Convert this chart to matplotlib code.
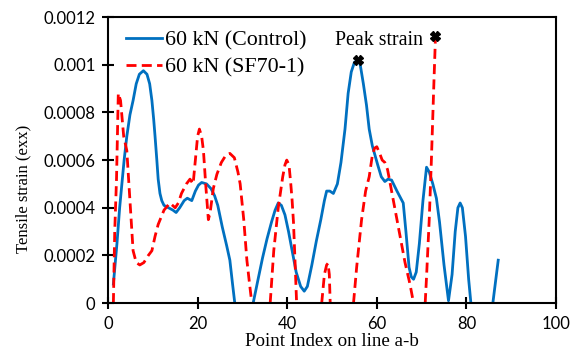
import numpy as np
import matplotlib.pyplot as plt

nan = np.nan

# 60 kN (Control)
x_ctrl = [1.2, 2, 2.6, 3.1, 3.6, 4.2, 4.9, 5.6, 6.3, 7, 7.9, 8.7, 9.3, 9.8, 10.2, 10.5, 10.9, 11.2, 11.6, 12,
          12.5, 13.5, 14.5, 15.2, 16, 17, 17.7, 18.7, 19.5, 20.2, 20.9, 22, 23, 23.8, 24.5, 25.5, 26.5, 27.2,
          27.8, 28.3, nan,
          32.4, 33.5, 34.5, 35.5, 36.5, 37.3, 38, 38.7, 39.5, 40.3, 41, 42, 43, 43.8, 44.5, 45.5, 46.5, 47.5,
          48.3, 48.8, 49.5, 50.3, 51.2, 52, 52.9, 53.6, 54.3, 55, 55.7, 56.3, 57, 57.7, 58.3, 59, 59.6, 60.2,
          61, 61.8, 62.5, 63.3, 64.5, 65.9, 66.5, 67.2, 67.7, 68.2, 68.8, 69.5, 70.3, 71.1, 71.7, 72.5, 73.3,
          74, 75, 76, 76.8, 77.5, 78.1, 78.6, 79.1, 79.8, 80.5, 81, nan,
          85.9, 86.5, 87.1]
y_ctrl = [0.00008, 0.00025, 0.0004, 0.0005, 0.0006, 0.0007, 0.00079, 0.00085, 0.00092, 0.00096, 0.000975,
          0.00096, 0.00092, 0.00085, 0.00077, 0.0007, 0.0006, 0.00052, 0.00046, 0.00043,
          0.00041, 0.0004, 0.00039, 0.00038, 0.0004, 0.00043, 0.00044, 0.00043, 0.00047, 0.000495, 0.000506,
          0.0005, 0.00048, 0.00045, 0.00041, 0.00032, 0.00024, 0.00018,
          0.00008, 0, nan,
          0, 0.0001, 0.00019, 0.00027, 0.00034, 0.00039, 0.00042, 0.00041, 0.00037, 0.0003, 0.00023, 0.00013,
          0.00007, 0.00005, 0.00007, 0.00016, 0.00026, 0.00035,
          0.00043, 0.00047, 0.00047, 0.00046, 0.0005, 0.00059, 0.00073, 0.00088, 0.00097, 0.00101, 0.00102,
          0.001, 0.00092, 0.00083, 0.00073, 0.00066, 0.00062, 0.00058,
          0.00053, 0.00051, 0.00052, 0.000516, 0.00047, 0.00042, 0.0003, 0.00015, 0.00011, 0.0001, 0.00013,
          0.00025, 0.00043, 0.00057, 0.00055, 0.0005, 0.00044,
          0.00034, 0.00016, 0.00001, 0.00012, 0.0003, 0.0004, 0.00042, 0.0004, 0.00028, 0.0001, 0, nan,
          0, 0.00009, 0.00018]

# 60 kN (SF70-1)
x_sf = [1.2, 1.5, 1.9, 2.3, 2.8, 3.5, 4.2, 5, 5.6, 6.3, 7.1, 8, 9, 9.8, 10.5, 11.2, 12.5, 13.8, 15, 15.7,
        16.4, 17.5, 18.3, 19, 19.5, 20, 20.4, 20.9, 21.3, 21.8, 22.4, 22.8, 23.5, 24.3, 25.3, 26.3, 27.2,
        28.2, 29, 29.5, 30.3, 31, 31.6, 32.1, nan,
        36.2, 37, 38, 39, 39.5, 39.9, 40.4, 40.8, 41.1, 41.4, 41.8, 42.1, nan,
        47.7, 48.3, 48.8, 49.1, 49.4, 49.6, nan,
        54.8, 55.5, 56.6, 57.5, 58.3, 59, 59.5, 60, 60.6, 61.2, 61.8, 62.4, 63, 63.8, 64.6, 65.4, 66.3,
        67.4, 68.2, nan,
        70.8, 71.1, 71.7, 72.2, 72.7, 73.1]
y_sf = [0, 0.0003, 0.00052, 0.00088, 0.00085, 0.0007, 0.00064, 0.0004, 0.00022, 0.00017, 0.00016, 0.00017,
        0.0002, 0.00022, 0.00028, 0.00033, 0.00039, 0.00042, 0.0004, 0.00042,
        0.00046, 0.0005, 0.00052, 0.0005, 0.0006, 0.0007, 0.00073, 0.0007, 0.00064, 0.0005, 0.00035,
        0.00038, 0.00048, 0.00054, 0.00059, 0.00062, 0.000628,
        0.00061, 0.00055, 0.0005, 0.00035, 0.00018, 0.00008, 0, nan,
        0, 0.00022, 0.0004, 0.00053, 0.00058, 0.0006, 0.00058, 0.0005, 0.00043, 0.00034, 0.00015, 0, nan,
        0, 0.00012, 0.00016, 0.000167, 0.00012, 0, nan,
        0, 0.00015, 0.00035, 0.00047, 0.00053, 0.00062, 0.00065, 0.000656, 0.00063, 0.0006, 0.00059,
        0.00056, 0.0005, 0.00042, 0.00034, 0.00026, 0.00017,
        0.00008, 0, nan,
        0, 0.00011, 0.00035, 0.00061, 0.0009, 0.00112]

# peak markers
peak_x = [55.7, 73.1]
peak_y = [0.00102, 0.00112]

xticks = [0, 20, 40, 60, 80, 100]
yticks = [0, 0.0002, 0.0004, 0.0006, 0.0008, 0.001, 0.0012]
ytick_labels = ["0", "0.0002", "0.0004", "0.0006", "0.0008", "0.001", "0.0012"]

serif = "Liberation Serif"
sans = "Lato"

fig = plt.figure(figsize=(5.76, 3.63), dpi=100)
ax = fig.add_axes([0.1875, 0.165, 0.7778, 0.788])

ax.plot(x_ctrl, y_ctrl, color="#0070C0", lw=2, label="60 kN (Control)")
ax.plot(x_sf, y_sf, color="#FF0000", lw=2, ls=(0, (3.6, 1.9)), label="60 kN (SF70-1)")
ax.plot(peak_x, peak_y, ls="none", marker="X", color="black", ms=7, clip_on=False)
ax.text(60.5, 0.0011, "Peak strain", family=serif, fontsize=14.3, ha="center", va="center")

ax.set_xlim(0, 100)
ax.set_ylim(0, 0.0012)
ax.set_xticks(xticks)
ax.set_xticklabels([str(t) for t in xticks], family=sans, fontsize=12)
ax.set_yticks(yticks)
ax.set_yticklabels(ytick_labels, family=sans, fontsize=12)
ax.tick_params(direction="inout", length=8, width=1.5, pad=5)

for s in ax.spines.values():
    s.set_linewidth(1.5)

ax.set_xlabel("Point Index on line a-b", family=serif, fontsize=13.7, labelpad=1)
ax.set_ylabel("Tensile strain (exx)", family=serif, fontsize=12)
ax.yaxis.set_label_coords(-0.172, 0.4)

ax.legend(loc="upper left", frameon=False, prop={"family": serif, "size": 15.8},
          handlelength=1.65, handletextpad=0.15, borderaxespad=0.0, labelspacing=0.3,
          bbox_to_anchor=(0.02, 0.985))

fig.savefig("out.png", dpi=100)
